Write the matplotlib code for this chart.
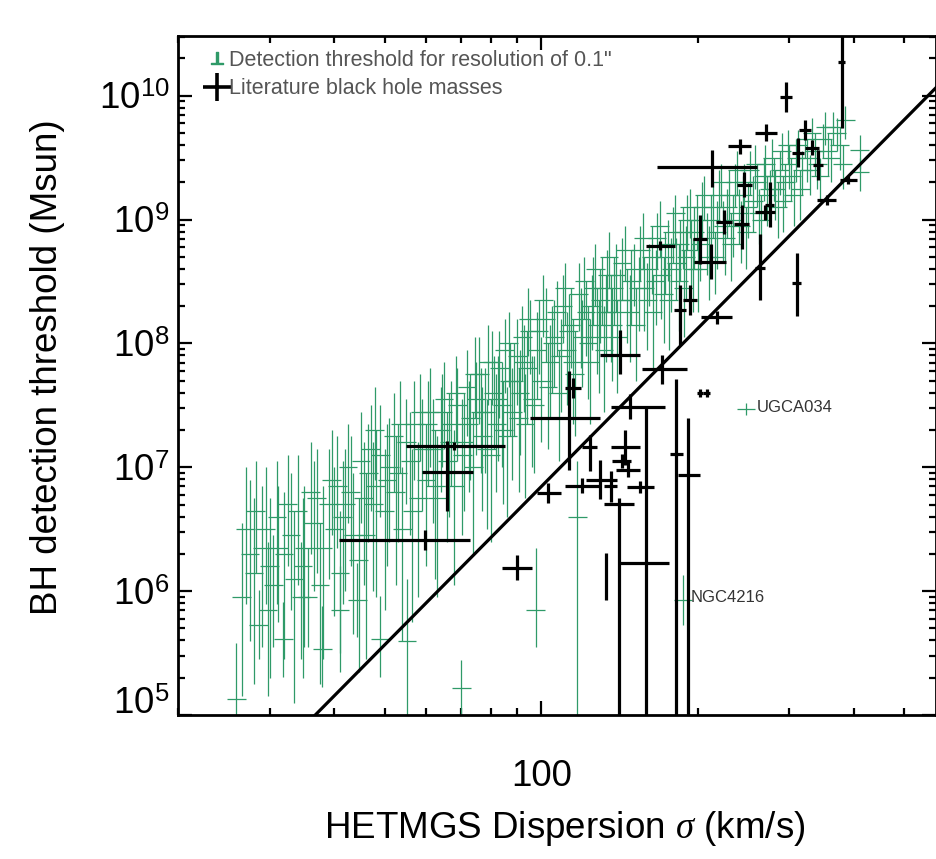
import numpy as np
import matplotlib
matplotlib.use('Agg')
import matplotlib.pyplot as plt
from matplotlib.lines import Line2D
from matplotlib.ticker import LogLocator, NullFormatter
from matplotlib.transforms import ScaledTranslation

plt.rcParams['font.family'] = ['Liberation Sans', 'DejaVu Sans']
plt.rcParams['mathtext.fontset'] = 'custom'
plt.rcParams['mathtext.rm'] = 'Liberation Sans'
plt.rcParams['mathtext.it'] = 'Liberation Serif:italic'
plt.rcParams['mathtext.bf'] = 'Liberation Sans:bold'

# ---------------- data ----------------
# HETMGS detection thresholds (green): sigma [km/s], log10 M, lower/upper error [dex]
green_sigma = [25.9, 26.5, 27.0, 27.5, 28.0, 28.2, 28.6, 29.0, 29.5, 29.8, 30.0, 30.5, 31.0, 31.2, 31.9, 32.0, 32.5,
               33.0, 33.5, 34.0, 34.5, 34.8, 35.0, 35.5, 36.0, 36.5, 37.0, 37.5, 37.9, 38.0, 39.0, 39.5, 40.0, 40.5,
               41.0, 41.0, 41.5, 42.0, 42.5, 43.0, 43.5, 44.3, 44.5, 45.0, 45.5, 46.0, 46.5, 47.0, 47.5, 47.8, 48.0,
               49.0, 49.0, 50.0, 50.5, 51.0, 52.0, 52.5, 53.0, 53.5, 54.0, 55.0, 55.2, 56.0, 56.5, 57.0, 58.0, 58.5,
               59.0, 60.0, 60.5, 61.0, 62.0, 62.5, 63.0, 64.0, 64.5, 65.0, 66.0, 66.5, 67.0, 68.0, 68.5, 69.0, 70.2,
               70.5, 71.0, 72.0, 72.5, 73.0, 74.0, 74.5, 75.0, 76.0, 76.5, 77.0, 78.0, 78.5, 79.0, 80.0, 80.5, 81.0,
               82.0, 82.5, 83.0, 84.0, 84.5, 85.0, 86.0, 86.5, 87.0, 88.0, 88.5, 90.0, 90.5, 91.0, 92.0, 92.5, 93.0,
               94.0, 94.5, 95.0, 96.0, 97.0, 97.5, 98.0, 99.0, 100.0, 101.0, 102.0, 103.0, 104.0, 105.0, 106.0,
               107.0, 108.0, 109.0, 110.0, 111.0, 112.0, 113.0, 114.0, 115.0, 116.0, 117.3, 118.0, 119.0, 120.0,
               121.0, 122.0, 123.0, 124.0, 125.0, 126.0, 127.0, 128.0, 129.0, 130.0, 131.0, 132.0, 133.0, 134.0,
               135.0, 136.0, 137.0, 138.0, 139.0, 140.0, 142.0, 143.0, 145.0, 146.0, 148.0, 149.0, 151.0, 152.0,
               154.0, 155.0, 157.0, 158.0, 160.0, 161.0, 163.0, 164.0, 166.0, 167.0, 169.0, 170.0, 172.0, 173.0,
               175.0, 176.0, 178.0, 179.0, 181.0, 182.0, 184.0, 185.0, 187.0, 187.5, 188.0, 190.0, 191.0, 193.0,
               194.0, 196.0, 197.0, 199.0, 200.0, 202.0, 204.0, 206.0, 208.0, 210.0, 212.0, 214.0, 216.0, 218.0,
               220.0, 222.0, 224.0, 226.0, 228.0, 230.0, 232.0, 234.0, 236.0, 238.0, 240.0, 242.0, 244.0, 246.0,
               247.8, 248.0, 250.0, 252.0, 256.0, 258.0, 260.0, 262.0, 265.0, 268.0, 270.0, 272.0, 275.0, 278.0,
               280.0, 282.0, 285.0, 288.0, 290.0, 292.0, 295.0, 298.0, 300.0, 303.0, 306.0, 309.0, 312.0, 315.0,
               318.0, 322.0, 325.0, 329.0, 332.0, 336.0, 340.0, 344.0, 348.0, 352.0, 356.0, 361.0, 365.0, 370.0,
               375.0, 380.0, 385.0, 410.0, 410.0]
green_logm = [5.13, 5.95, 6.50, 6.30, 6.15, 6.65, 5.73, 6.35, 6.50, 5.85, 6.20, 6.05, 6.60, 6.35, 5.61, 6.30, 6.70,
              6.45, 6.10, 6.65, 5.95, 6.20, 6.35, 5.95, 6.80, 6.55, 6.75, 6.05, 5.53, 6.35, 6.70, 6.90, 6.50, 6.85,
              6.15, 5.85, 6.60, 6.70, 7.00, 6.80, 6.45, 5.93, 6.25, 7.05, 6.75, 6.45, 6.95, 7.15, 6.70, 7.30, 6.85,
              7.10, 5.61, 6.65, 6.90, 7.00, 7.25, 6.80, 6.95, 7.35, 6.50, 7.20, 5.60, 7.05, 6.65, 7.35, 6.75, 7.45,
              7.15, 6.90, 7.35, 7.45, 7.15, 6.85, 6.75, 7.30, 7.45, 7.55, 7.05, 7.20, 7.35, 6.85, 7.60, 7.50, 5.22,
              7.10, 7.20, 7.65, 7.35, 7.40, 7.00, 7.75, 7.55, 7.75, 7.45, 7.25, 7.45, 7.15, 7.85, 7.10, 7.85, 7.60,
              7.35, 7.55, 7.80, 7.50, 7.30, 7.95, 7.25, 8.00, 7.70, 7.45, 7.70, 7.90, 7.40, 7.60, 8.05, 7.85, 7.35,
              7.80, 8.20, 8.10, 7.55, 7.50, 5.85, 7.95, 8.10, 7.70, 8.35, 8.20, 7.65, 7.85, 8.00, 8.05, 8.25, 7.60,
              7.90, 8.30, 8.45, 7.95, 8.10, 8.15, 7.85, 7.75, 6.60, 8.40, 8.20, 8.05, 8.50, 8.25, 8.00, 7.85, 8.30,
              8.45, 8.60, 8.15, 8.05, 8.35, 8.45, 7.95, 8.25, 8.55, 8.70, 8.25, 8.15, 8.45, 8.55, 8.05, 8.35, 8.65,
              8.75, 8.35, 8.25, 8.50, 8.60, 8.15, 8.45, 8.75, 8.85, 8.45, 8.35, 8.60, 8.70, 8.25, 8.50, 8.85, 8.95,
              8.55, 8.40, 8.70, 8.80, 8.35, 8.60, 8.90, 9.05, 8.65, 8.50, 8.80, 8.90, 5.93, 8.45, 8.70, 9.00, 9.10,
              8.75, 8.60, 8.90, 9.00, 8.60, 8.80, 9.10, 9.20, 8.85, 8.70, 9.00, 9.10, 8.70, 8.90, 9.20, 9.30, 8.95,
              8.85, 9.10, 9.20, 8.80, 9.00, 9.30, 9.40, 9.05, 8.95, 9.20, 9.30, 7.47, 8.90, 9.10, 9.40, 9.15, 9.45,
              9.30, 9.05, 9.00, 9.35, 9.45, 9.20, 9.25, 9.50, 9.35, 9.25, 9.10, 9.40, 9.55, 9.15, 9.30, 9.60, 9.45,
              9.35, 9.20, 9.50, 9.60, 9.25, 9.40, 9.65, 9.50, 9.40, 9.70, 9.55, 9.45, 9.35, 9.65, 9.75, 9.55, 9.50,
              9.75, 9.70, 9.60, 9.45, 9.80, 9.56, 9.38]
green_lo = [0.60, 0.80, 0.60, 0.70, 0.90, 0.50, 0.28, 0.80, 0.60, 0.70, 0.90, 0.50, 0.70, 0.60, 0.30, 0.85, 0.50,
            0.60, 1.00, 0.60, 0.50, 0.90, 0.80, 0.40, 0.50, 0.55, 0.60, 0.80, 0.30, 0.90, 0.60, 0.45, 0.70, 0.50,
            0.80, 0.35, 0.70, 0.70, 0.45, 0.60, 0.80, 0.30, 0.90, 0.50, 0.70, 1.00, 0.55, 0.50, 0.70, 0.40, 0.90,
            0.50, 0.30, 0.80, 0.70, 0.60, 0.45, 0.75, 0.55, 0.40, 0.90, 0.50, 1.00, 0.60, 0.90, 0.45, 0.80, 0.40,
            0.50, 0.70, 0.50, 0.45, 0.60, 0.75, 0.80, 0.50, 0.45, 0.40, 0.65, 0.60, 0.50, 0.80, 0.40, 0.45, 0.35,
            0.65, 0.55, 0.40, 0.55, 0.50, 0.70, 0.35, 0.45, 0.40, 0.50, 0.60, 0.50, 0.65, 0.35, 0.70, 0.35, 0.45,
            0.55, 0.50, 0.40, 0.50, 0.60, 0.35, 0.65, 0.35, 0.45, 0.55, 0.45, 0.40, 0.60, 0.50, 0.35, 0.40, 0.60,
            0.45, 0.30, 0.35, 0.55, 0.55, 0.30, 0.40, 0.35, 0.50, 0.30, 0.35, 0.50, 0.45, 0.40, 0.40, 0.35, 0.55,
            0.45, 0.30, 0.30, 0.45, 0.40, 0.35, 0.50, 0.50, 2.00, 0.30, 0.40, 0.40, 0.30, 0.35, 0.45, 0.50, 0.35,
            0.30, 0.30, 0.40, 0.45, 0.35, 0.30, 0.50, 0.40, 0.30, 0.25, 0.40, 0.45, 0.30, 0.30, 0.45, 0.35, 0.30,
            0.25, 0.35, 0.40, 0.35, 0.30, 0.45, 0.35, 0.25, 0.25, 0.35, 0.40, 0.30, 0.30, 0.45, 0.35, 0.25, 0.25,
            0.35, 0.40, 0.30, 0.30, 0.40, 0.35, 0.25, 0.25, 0.30, 0.40, 0.30, 0.30, 0.20, 0.40, 0.35, 0.25, 0.25,
            0.30, 0.35, 0.30, 0.25, 0.35, 0.30, 0.25, 0.20, 0.30, 0.35, 0.25, 0.25, 0.30, 0.30, 0.20, 0.20, 0.30,
            0.30, 0.25, 0.25, 0.30, 0.30, 0.20, 0.20, 0.25, 0.30, 0.25, 0.20, 0.05, 0.30, 0.25, 0.20, 0.25, 0.20,
            0.20, 0.25, 0.30, 0.20, 0.20, 0.25, 0.20, 0.15, 0.20, 0.25, 0.25, 0.20, 0.15, 0.25, 0.20, 0.15, 0.20,
            0.20, 0.25, 0.20, 0.15, 0.25, 0.20, 0.15, 0.20, 0.20, 0.15, 0.20, 0.20, 0.20, 0.15, 0.15, 0.20, 0.20,
            0.15, 0.15, 0.20, 0.20, 0.15, 0.15, 0.15]
green_hi = [0.45, 0.60, 0.50, 0.60, 0.60, 0.40, 0.28, 0.50, 0.50, 0.55, 0.55, 0.40, 0.45, 0.50, 0.30, 0.50, 0.40,
            0.50, 0.55, 0.45, 0.45, 0.55, 0.50, 0.40, 0.40, 0.50, 0.40, 0.50, 0.35, 0.50, 0.45, 0.40, 0.50, 0.40,
            0.50, 0.35, 0.45, 0.45, 0.35, 0.45, 0.50, 0.30, 0.50, 0.40, 0.45, 0.50, 0.40, 0.35, 0.50, 0.35, 0.45,
            0.40, 0.35, 0.50, 0.45, 0.40, 0.35, 0.45, 0.40, 0.35, 0.50, 0.35, 0.50, 0.40, 0.50, 0.35, 0.45, 0.30,
            0.40, 0.45, 0.35, 0.35, 0.40, 0.45, 0.50, 0.35, 0.30, 0.30, 0.40, 0.40, 0.35, 0.45, 0.30, 0.30, 0.22,
            0.45, 0.40, 0.30, 0.35, 0.35, 0.45, 0.30, 0.30, 0.30, 0.35, 0.40, 0.35, 0.40, 0.30, 0.45, 0.25, 0.30,
            0.40, 0.35, 0.30, 0.35, 0.40, 0.25, 0.40, 0.25, 0.30, 0.35, 0.30, 0.30, 0.40, 0.35, 0.25, 0.30, 0.40,
            0.30, 0.25, 0.25, 0.35, 0.40, 0.50, 0.30, 0.25, 0.35, 0.20, 0.25, 0.35, 0.30, 0.30, 0.30, 0.25, 0.35,
            0.30, 0.25, 0.20, 0.30, 0.30, 0.30, 0.35, 0.35, 0.45, 0.25, 0.25, 0.30, 0.20, 0.25, 0.30, 0.35, 0.25,
            0.25, 0.20, 0.30, 0.30, 0.25, 0.25, 0.35, 0.30, 0.20, 0.20, 0.30, 0.30, 0.25, 0.25, 0.30, 0.25, 0.20,
            0.20, 0.25, 0.30, 0.25, 0.20, 0.30, 0.25, 0.20, 0.20, 0.25, 0.30, 0.20, 0.25, 0.30, 0.25, 0.20, 0.20,
            0.25, 0.30, 0.20, 0.20, 0.30, 0.25, 0.20, 0.15, 0.20, 0.30, 0.20, 0.20, 0.20, 0.30, 0.25, 0.20, 0.15,
            0.25, 0.25, 0.20, 0.20, 0.25, 0.20, 0.20, 0.15, 0.20, 0.25, 0.20, 0.20, 0.20, 0.25, 0.20, 0.15, 0.20,
            0.20, 0.15, 0.20, 0.25, 0.20, 0.15, 0.15, 0.20, 0.20, 0.15, 0.15, 0.05, 0.20, 0.20, 0.15, 0.20, 0.15,
            0.15, 0.20, 0.20, 0.15, 0.15, 0.15, 0.15, 0.15, 0.15, 0.15, 0.20, 0.15, 0.15, 0.20, 0.15, 0.12, 0.15,
            0.15, 0.20, 0.15, 0.12, 0.15, 0.15, 0.12, 0.15, 0.12, 0.12, 0.15, 0.12, 0.15, 0.12, 0.12, 0.15, 0.15,
            0.12, 0.12, 0.15, 0.15, 0.12, 0.12, 0.12]
green_sig_err_dex = 0.018

# Literature black hole masses (black)
bh_sigma = [379, 296, 271, 241, 213, 322, 332, 312, 341, 390, 354, 243, 270, 264, 310, 212, 169, 202, 225, 185,
            218, 193, 142, 171, 115, 113, 148, 159, 182, 192, 141, 133, 202, 208, 145, 143, 147, 130, 120, 136,
            155, 103, 124, 66, 68, 59.8, 90, 275, 246]
bh_sig_lo = [6, 8, 13, 12, 46, 8, 10, 8, 8, 15, 15, 8, 12, 6, 6, 15, 10, 6, 8, 5,
             15, 6, 12, 15, 4, 18, 12, 18, 5, 9, 9, 0.5, 3, 3, 9, 6, 8, 8, 9, 4,
             9, 5, 4, 7, 13, 19, 6, 6, 8]
bh_sig_hi = [6, 8, 13, 12, 47, 8, 10, 8, 8, 15, 15, 8, 12, 6, 6, 15, 12, 6, 8, 5,
             15, 6, 13, 20, 4, 17, 25, 17, 5, 10, 10, 0.5, 3, 3, 10, 6, 8, 10, 10, 4,
             10, 6, 4, 8, 17, 13, 6, 6, 8]
bh_logm = [10.27, 9.99, 9.70, 9.59, 9.42, 9.72, 9.58, 9.54, 9.44, 9.32, 9.16, 8.96, 9.06, 8.61, 8.49, 8.66, 8.79,
           8.84, 8.98, 8.27, 8.21, 8.35, 7.91, 7.79, 7.64, 7.40, 7.49, 6.23, 7.11, 6.94, 6.70, 6.12, 7.60, 7.60,
           7.16, 7.05, 6.98, 6.90, 6.85, 6.85, 6.84, 6.79, 7.16, 6.96, 7.17, 6.41, 6.19, 9.12, 9.28]
bh_lo = [0.53, 0.12, 0.07, 0.06, 0.16, 0.08, 0.06, 0.12, 0.12, 0.03, 0.04, 0.20, 0.06, 0.26, 0.27, 0.14, 0.04,
         0.20, 0.10, 0.28, 0.05, 0.12, 0.16, 0.12, 0.08, 0.42, 0.10, 3.00, 3.00, 3.00, 3.00, 0.19, 0.03, 0.03,
         0.14, 0.06, 0.06, 0.16, 0.06, 0.13, 0.05, 0.08, 0.19, 0.31, 0.03, 0.08, 0.10, 0.18, 0.10]
bh_hi = [0.35, 0.12, 0.07, 0.06, 0.14, 0.08, 0.06, 0.12, 0.12, 0.03, 0.04, 0.16, 0.06, 0.27, 0.24, 0.14, 0.04,
         0.20, 0.10, 0.20, 0.05, 0.12, 0.20, 0.12, 0.08, 0.38, 0.10, 1.26, 0.60, 0.46, 0.05, 0.19, 0.03, 0.03,
         0.14, 0.06, 0.06, 0.16, 0.06, 0.12, 0.05, 0.08, 0.10, 0.25, 0.03, 0.08, 0.10, 0.18, 0.10]

# M-sigma relation: log M = alpha + beta log(sigma/200)
msig_alpha = 8.12
msig_beta = 4.24
msig_sigma = [20, 600]

annot_names = ['UGCA034', 'NGC4216']
annot_sigma = [260, 193.5]
annot_logm = [7.48, 5.95]

# ---------------- plot ----------------
W, H = 937, 859
fig = plt.figure(figsize=(W / 100, H / 100), dpi=100)
ax = fig.add_axes([178 / W, 1 - 715 / H, (936 - 178) / W, (715 - 36) / H])

green = '#2f9a68'

gs = np.array(green_sigma)
gm = np.array(green_logm)
glo = np.array(green_lo)
ghi = np.array(green_hi)
gy = 10 ** gm
ax.errorbar(gs, gy,
            yerr=[gy - 10 ** (gm - glo), 10 ** (gm + ghi) - gy],
            xerr=[gs - gs * 10 ** (-green_sig_err_dex), gs * 10 ** green_sig_err_dex - gs],
            fmt='none', ecolor=green, elinewidth=0.9, capsize=0, zorder=2)

bs = np.array(bh_sigma)
bm = np.array(bh_logm)
by = 10 ** bm
ax.errorbar(bs, by,
            yerr=[by - 10 ** (bm - np.array(bh_lo)), 10 ** (bm + np.array(bh_hi)) - by],
            xerr=[bh_sig_lo, bh_sig_hi],
            fmt='none', ecolor='black', elinewidth=2.3, capsize=0, zorder=4)

ls = np.array(msig_sigma, dtype=float)
ax.plot(ls, 10 ** (msig_alpha + msig_beta * np.log10(ls / 200.0)), color='black', lw=2.3, zorder=5)

for n, s, m in zip(annot_names, annot_sigma, annot_logm):
    ax.text(s, 10 ** m, n, fontsize=12, color='#333333', ha='left', va='center', zorder=6)

ax.set_xscale('log')
ax.set_yscale('log')
ax.set_xlim(20, 10 ** (2 + (936 - 541) / 520))
ax.set_ylim(1e5, 10 ** (10 + (95.7 - 36) / 124))

ax.set_xticks([100], ['100'])
ax.xaxis.set_minor_locator(LogLocator(base=10, subs=np.arange(2, 10)))
ax.xaxis.set_minor_formatter(NullFormatter())
yt = [1e5, 1e6, 1e7, 1e8, 1e9, 1e10]
ax.set_yticks(yt, [r'$10^{%d}$' % int(np.log10(v)) for v in yt])
ax.yaxis.set_minor_locator(LogLocator(base=10, subs=np.arange(2, 10)))
ax.yaxis.set_minor_formatter(NullFormatter())

ax.tick_params(which='both', direction='in', top=True, right=True, width=1.6, color='black')
ax.tick_params(which='major', length=10, labelsize=26.5)
ax.tick_params(which='minor', length=5)
ax.tick_params(axis='x', which='major', pad=32)
ax.tick_params(axis='y', which='major', pad=6)
for sp in ax.spines.values():
    sp.set_linewidth(2.0)

# the lowest y label sits a little above its tick, as in the original
ylab0 = ax.get_yticklabels()[0]
ylab0.set_transform(ylab0.get_transform() + ScaledTranslation(0, 15 / 100, fig.dpi_scale_trans))

fig.text(48 / W, 1 - 367 / H, 'BH detection threshold (Msun)', rotation=90, ha='center', va='center',
         fontsize=26.5)
fig.text(565 / W, 1 - 828 / H, r'HETMGS Dispersion $\sigma$ (km/s)', ha='center', va='center', fontsize=26.5)

handles = [Line2D([], [], color=green, marker=r'$\perp$', linestyle='none', markersize=9),
           Line2D([], [], color='black', marker='+', linestyle='none', markersize=20, markeredgewidth=2.6)]
labels = ['Detection threshold for resolution of 0.1"', 'Literature black hole masses']
leg = ax.legend(handles, labels, loc='upper left', bbox_to_anchor=(0.037, 0.98), frameon=False,
                fontsize=15.5, handlelength=1.0, handletextpad=0.05, labelspacing=0.35, borderaxespad=0,
                borderpad=0)
for t in leg.get_texts():
    t.set_color('#555555')

fig.savefig('out.png', dpi=100, facecolor='white')
